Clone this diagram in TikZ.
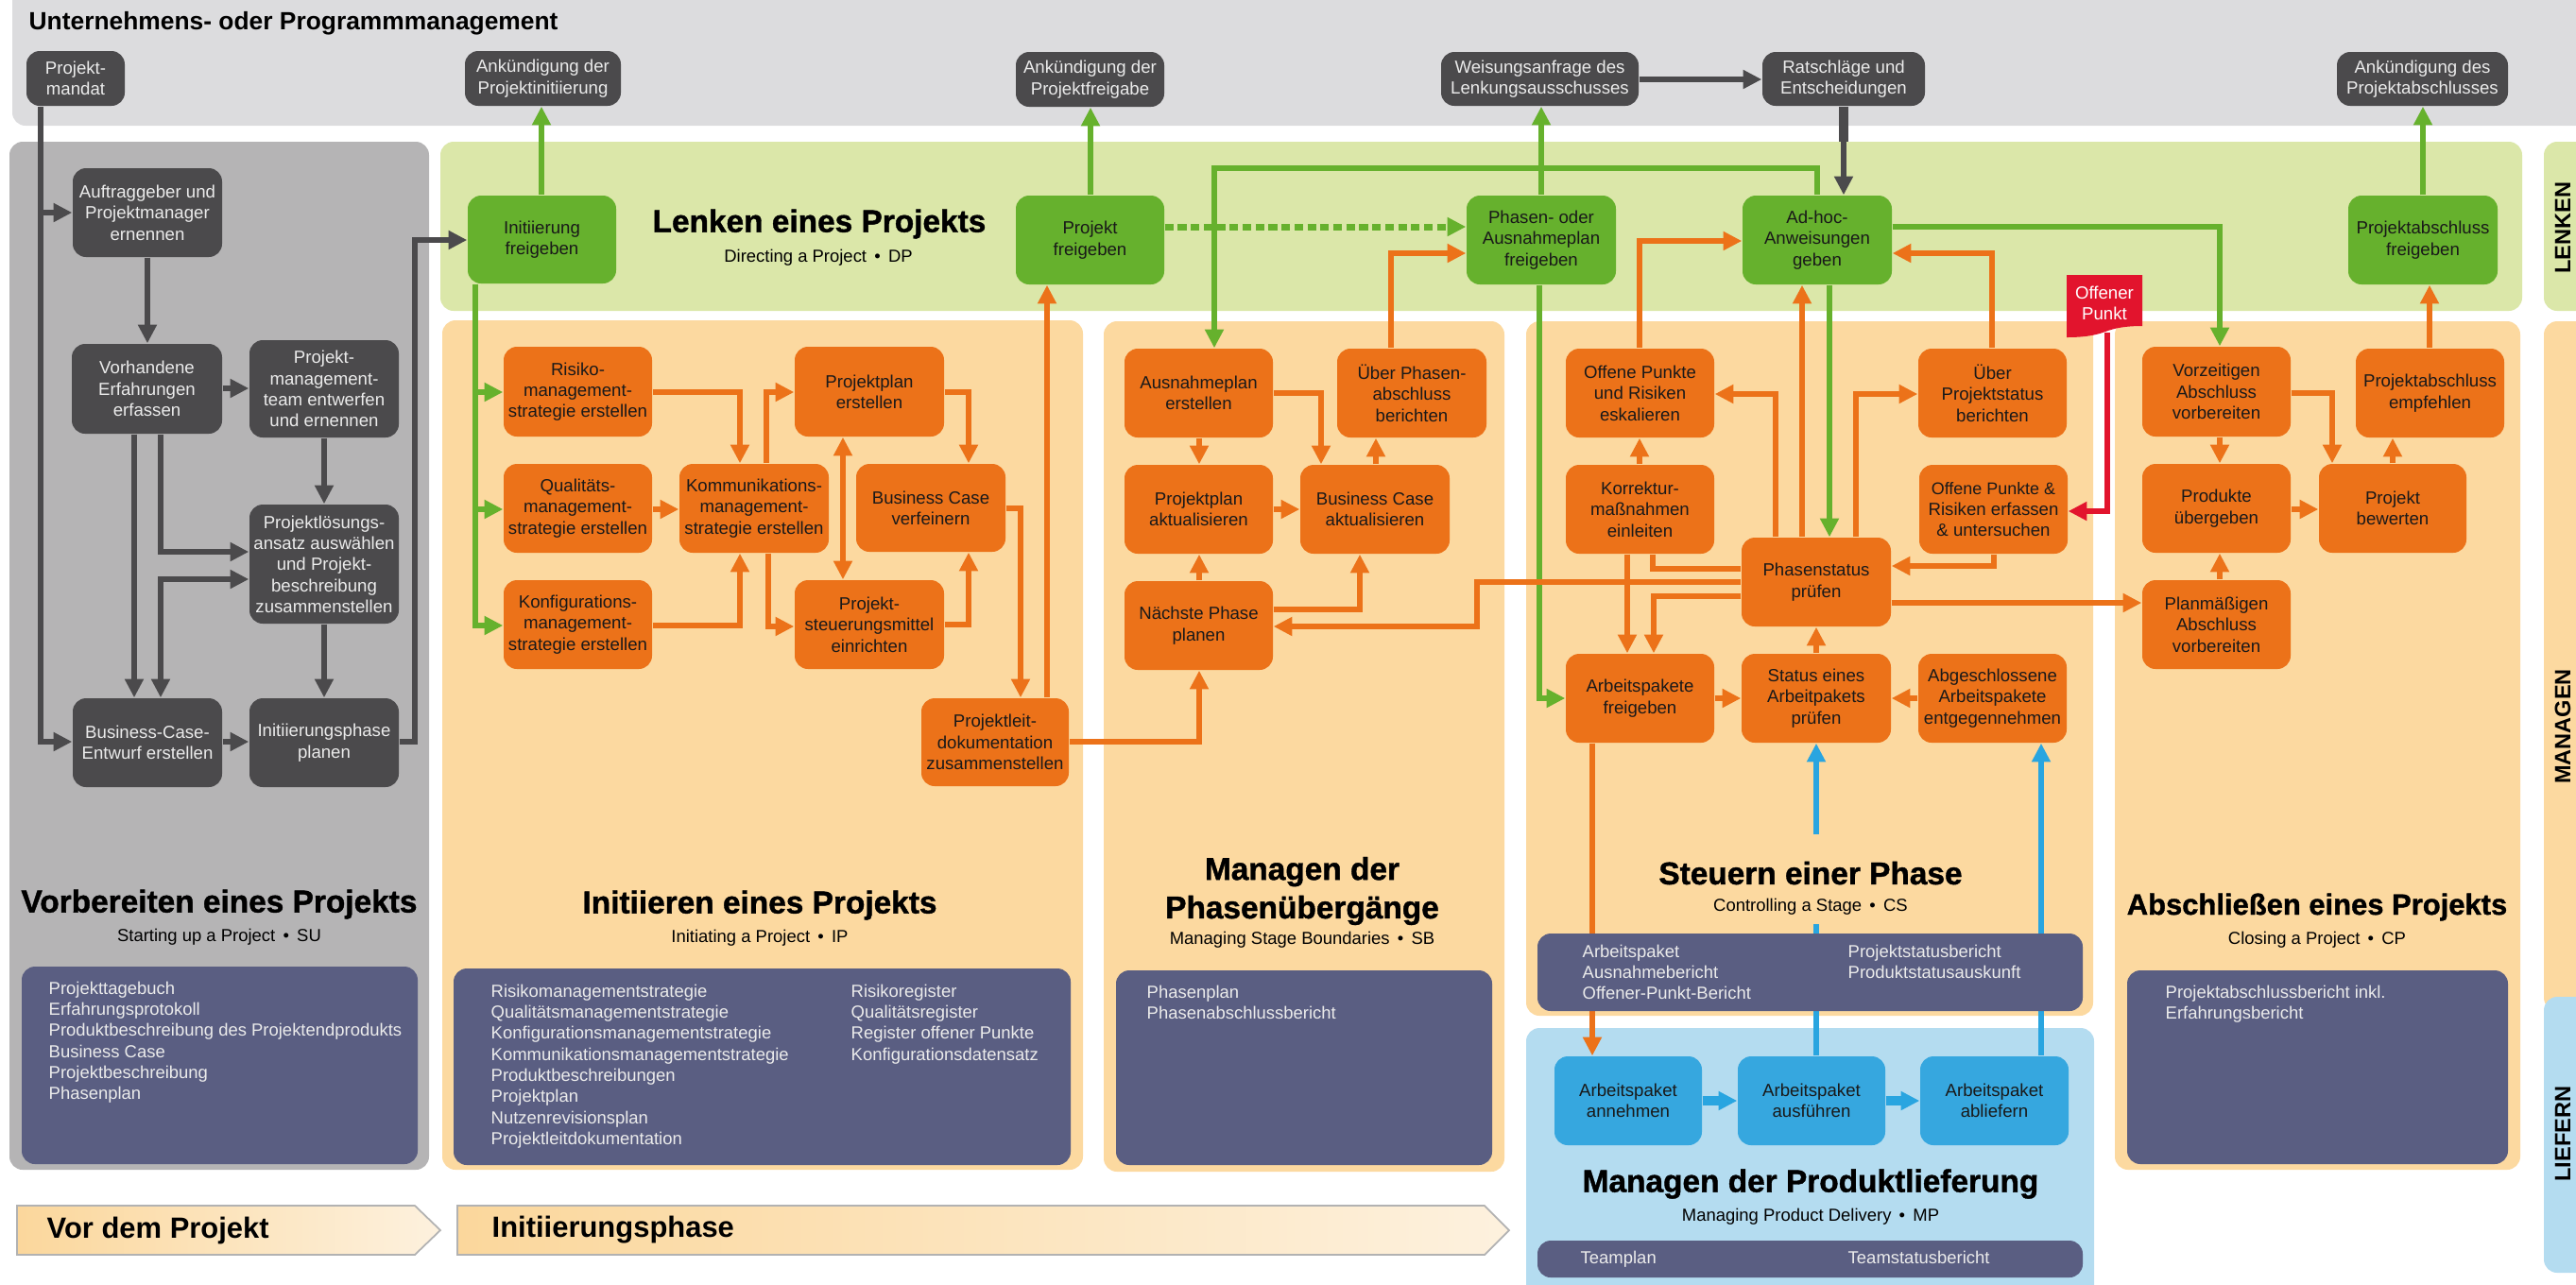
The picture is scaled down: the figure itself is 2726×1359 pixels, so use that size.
\documentclass[tikz,border=0pt]{standalone}
\usepackage{fontspec}
\setmainfont{Liberation Sans}
\newfontfamily\heavyfont{Liberation Sans}[BoldFeatures={FakeBold=1.2}]
\usetikzlibrary{arrows.meta}
\definecolor{topband}{HTML}{DCDCDE}
\definecolor{supanel}{HTML}{B5B4B5}
\definecolor{greenband}{HTML}{DBE7A9}
\definecolor{orpanel}{HTML}{FCD9A0}
\definecolor{blpanel}{HTML}{B4DCF0}
\definecolor{purplebox}{HTML}{5A5E82}
\definecolor{dk}{HTML}{4B4A4C}
\definecolor{orn}{HTML}{EC7219}
\definecolor{grn}{HTML}{66B12D}
\definecolor{bln}{HTML}{36A7DF}
\definecolor{bll}{HTML}{29A5E0}
\definecolor{rd}{HTML}{E2142D}
\definecolor{chevA}{HTML}{FBD79C}
\definecolor{chevB}{HTML}{FDF1DE}
\newcommand\nfont{\fontsize{5.3pt}{6.35pt}\selectfont}
\newcommand\lfont{\fontsize{5.25pt}{6.35pt}\selectfont}
\newcommand\tfont{\heavyfont\bfseries\fontsize{9.5pt}{10.2pt}\selectfont}
\newcommand\tfontsmall{\heavyfont\bfseries\fontsize{8.8pt}{10.2pt}\selectfont}
\newcommand\sfont{\fontsize{5.25pt}{6pt}\selectfont}
\newcommand\bx[7]{\node[#1,minimum width={(#5-#3)*0.01cm},minimum height={(#6-#4)*0.01cm}] (#2) at ({(#3+#5)/2},{(#4+#6)/2}) {#7};}
\tikzset{
  x=0.01cm,y=-0.01cm,
  >={Triangle[length=5.6pt,width=5.4pt]},
  base/.style={rounded corners=0.14cm,inner sep=0pt,align=center,font=\nfont},
  dnode/.style={base,fill=dk,text=white!92!black},
  onode/.style={base,fill=orn,text=black!90},
  gnode/.style={base,fill=grn,text=black!90},
  bnode/.style={base,fill=bln,text=black!90},
  panelfill/.style={rounded corners=0.14cm},
  cd/.style={line width=1.8pt,draw=dk},
  co/.style={line width=1.6pt,draw=orn},
  cg/.style={line width=1.5pt,draw=grn},
  cb/.style={line width=1.6pt,draw=bll},
  cr/.style={line width=1.8pt,draw=rd},
  titletext/.style={inner sep=0pt,font=\tfont,align=center,text=black},
  subtext/.style={inner sep=0pt,font=\sfont,text=black},
  listtext/.style={inner sep=0pt,font=\lfont,text=white!92!black,align=left,anchor=north west},
  barlabel/.style={inner sep=0pt,rotate=90,font=\bfseries\fontsize{6.7pt}{7pt}\selectfont,text=black},
  phasetext/.style={inner sep=0pt,anchor=west,font=\bfseries\fontsize{8.8pt}{10pt}\selectfont,text=black}
}
\begin{document}
\begin{tikzpicture}
\useasboundingbox (0,0) rectangle (2726,1359);
% panels
\fill[topband,panelfill] (13,-30) rectangle (2760,133);
\fill[greenband,panelfill] (466,150) rectangle (2669,329);
\fill[greenband,panelfill] (2692,150) rectangle (2760,329);
\fill[supanel,panelfill] (10,150) rectangle (454,1238);
\fill[orpanel,panelfill] (468,339) rectangle (1146,1238);
\fill[orpanel,panelfill] (1168,340) rectangle (1592,1240);
\fill[orpanel,panelfill] (1615,340) rectangle (2215,1075);
\fill[orpanel,panelfill] (2238,340) rectangle (2667,1238);
\fill[orpanel,panelfill] (2692,340) rectangle (2760,1070);
\fill[blpanel,panelfill] (2692,1055) rectangle (2760,1347);
\fill[blpanel,panelfill] (1615,1088) rectangle (2216,1400);
% band titles
\node[inner sep=0pt,anchor=west,font=\bfseries\fontsize{7.5pt}{8pt}\selectfont] (tmgmt) at (30,25) {Unternehmens- oder Programmmanagement};
\node[barlabel] (blenken) at (2712,241) {LENKEN};
\node[barlabel] (bmanagen) at (2712,769) {MANAGEN};
\node[barlabel] (bliefern) at (2712,1200) {LIEFERN};
% chevrons
\shade[left color=chevA,right color=chevB,draw=black!30,line width=0.5pt] (18,1276) -- (439,1276) -- (466,1302) -- (439,1328) -- (18,1328) -- cycle;
\shade[left color=chevA,right color=chevB,draw=black!30,line width=0.5pt] (484,1276) -- (1571,1276) -- (1597,1302) -- (1571,1328) -- (484,1328) -- cycle;
\node[phasetext] (tvor) at (49,1302) {Vor dem Projekt};
\node[phasetext] (tini) at (520,1302) {Initiierungsphase};
% flag
\fill[rd] (2187,291) -- (2267,291) -- (2267,345) .. controls (2250,345) and (2238,347) .. (2228,351) .. controls (2215,356) and (2200,357) .. (2187,357) -- cycle;
\node[inner sep=0pt,align=center,font=\nfont,text=white] (offen) at (2227,321) {Offener\\Punkt};
\coordinate (offenfoot) at (2230,352);
% titles
\node[titletext] (tdp) at (867,237) {Lenken eines Projekts};
\node[subtext] (sdp) at (866,273) {Directing a Project \,•\, DP};
\node[titletext] (tsu) at (232,957) {Vorbereiten eines Projekts};
\node[subtext] (ssu) at (232,992) {Starting up a Project \,•\, SU};
\node[titletext] (tip) at (804,958) {Initiieren eines Projekts};
\node[subtext] (sip) at (804,993) {Initiating a Project \,•\, IP};
\node[titletext] (tsb) at (1378,943) {Managen der\\[1.4pt]Phasenübergänge};
\node[subtext] (ssb) at (1378,995) {Managing Stage Boundaries \,•\, SB};
\node[titletext] (tcs) at (1916,924) {Steuern einer Phase};
\node[subtext] (scs) at (1916,960) {Controlling a Stage \,•\, CS};
\node[titletext,font=\tfontsmall] (tcp) at (2452,960) {Abschließen eines Projekts};
\node[subtext] (scp) at (2452,995) {Closing a Project \,•\, CP};
\node[titletext] (tmp) at (1916,1253) {Managen der Produktlieferung};
\node[subtext] (smp) at (1916,1288) {Managing Product Delivery \,•\, MP};
% top dark nodes
\bx{dnode}{mandat}{28}{54}{132}{112}{Projekt-\\mandat}
\bx{dnode}{ankinit}{492}{54}{657}{112}{Ankündigung der\\Projektinitiierung}
\bx{dnode}{ankfrei}{1075}{55}{1232}{113}{Ankündigung der\\Projektfreigabe}
\bx{dnode}{weisung}{1525}{55}{1734}{112}{Weisungsanfrage des\\Lenkungsausschusses}
\bx{dnode}{rat}{1865}{55}{2037}{112}{Ratschläge und\\Entscheidungen}
\bx{dnode}{ankabs}{2473}{55}{2654}{112}{Ankündigung des\\Projektabschlusses}
% SU
\bx{dnode}{ernennen}{77}{178}{235}{272}{Auftraggeber und\\Projektmanager\\ernennen}
\bx{dnode}{erfahr}{76}{364}{235}{459}{Vorhandene\\Erfahrungen\\erfassen}
\bx{dnode}{team}{264}{360}{422}{463}{Projekt-\\management-\\team entwerfen\\und ernennen}
\bx{dnode}{loesung}{264}{534}{422}{660}{Projektlösungs-\\ansatz auswählen\\und Projekt-\\beschreibung\\zusammenstellen}
\bx{dnode}{bcentw}{77}{739}{235}{833}{Business-Case-\\Entwurf erstellen}
\bx{dnode}{iniplan}{264}{739}{422}{833}{Initiierungsphase\\planen}
% DP
\bx{gnode}{inifrei}{495}{207}{652}{300}{Initiierung\\freigeben}
\bx{gnode}{projfrei}{1075}{207}{1232}{301}{Projekt\\freigeben}
\bx{gnode}{phfrei}{1552}{207}{1710}{301}{Phasen- oder\\Ausnahmeplan\\freigeben}
\bx{gnode}{adhoc}{1844}{207}{2002}{301}{Ad-hoc-\\Anweisungen\\geben}
\bx{gnode}{pafrei}{2485}{207}{2643}{301}{Projektabschluss\\freigeben}
% IP
\bx{onode}{risiko}{533}{367}{690}{462}{Risiko-\\management-\\strategie erstellen}
\bx{onode}{quali}{533}{491}{690}{585}{Qualitäts-\\management-\\strategie erstellen}
\bx{onode}{konfig}{533}{614}{690}{708}{Konfigurations-\\management-\\strategie erstellen}
\bx{onode}{komm}{719}{491}{877}{585}{Kommunikations-\\management-\\strategie erstellen}
\bx{onode}{ppers}{841}{367}{999}{462}{Projektplan\\erstellen}
\bx{onode}{steuer}{841}{614}{999}{708}{Projekt-\\steuerungsmittel\\einrichten}
\bx{onode}{bcverf}{906}{491}{1064}{584}{Business Case\\verfeinern}
\bx{onode}{pld}{975}{739}{1131}{832}{Projektleit-\\dokumentation\\zusammenstellen}
% SB
\bx{onode}{ausnplan}{1190}{369}{1347}{463}{Ausnahmeplan\\erstellen}
\bx{onode}{ppakt}{1190}{492}{1347}{586}{Projektplan\\aktualisieren}
\bx{onode}{naechste}{1190}{615}{1347}{709}{Nächste Phase\\planen}
\bx{onode}{bcakt}{1376}{492}{1534}{586}{Business Case\\aktualisieren}
\bx{onode}{ueberph}{1415}{369}{1573}{463}{Über Phasen-\\abschluss\\berichten}
% CS
\bx{onode}{eskal}{1657}{369}{1814}{463}{Offene Punkte\\und Risiken\\eskalieren}
\bx{onode}{korr}{1657}{492}{1814}{586}{Korrektur-\\maßnahmen\\einleiten}
\bx{onode}{apfrei}{1657}{692}{1814}{786}{Arbeitspakete\\freigeben}
\bx{onode}{phstat}{1843}{569}{2001}{663}{Phasenstatus\\prüfen}
\bx{onode}{apstat}{1843}{692}{2001}{786}{Status eines\\Arbeitpakets\\prüfen}
\bx{onode}{ueberstat}{2030}{369}{2187}{463}{Über\\Projektstatus\\berichten}
\bx{onode}{offerf}{2031}{492}{2188}{586}{\fontsize{5.1pt}{6.35pt}\selectfont Offene Punkte \&\\Risiken erfassen\\\& untersuchen}
\bx{onode}{abgesch}{2030}{692}{2187}{786}{Abgeschlossene\\Arbeitspakete\\entgegennehmen}
% CP
\bx{onode}{vorz}{2267}{367}{2424}{462}{Vorzeitigen\\Abschluss\\vorbereiten}
\bx{onode}{prodgb}{2267}{491}{2424}{585}{Produkte\\übergeben}
\bx{onode}{planm}{2267}{614}{2424}{708}{Planmäßigen\\Abschluss\\vorbereiten}
\bx{onode}{bewert}{2454}{491}{2610}{585}{Projekt\\bewerten}
\bx{onode}{paempf}{2493}{369}{2650}{463}{Projektabschluss\\empfehlen}
% MP
\bx{bnode}{annehm}{1645}{1118}{1801}{1212}{Arbeitspaket\\annehmen}
\bx{bnode}{ausfuehr}{1839}{1118}{1995}{1212}{Arbeitspaket\\ausführen}
\bx{bnode}{abliefer}{2032}{1118}{2189}{1212}{Arbeitspaket\\abliefern}
% --- connectors: dark
\draw[cd,->] (43,0 |- mandat.south) |- (bcentw.west |- 0,785);
\draw[cd,->] (43,225) -- (ernennen.west |- 0,225);
\draw[cd,->] (ernennen.south -| 156,0) -- (erfahr.north -| 156,0);
\draw[cd,->] (erfahr.east |- 0,411) -- (team.west |- 0,411);
\draw[cd,->] (team.south -| 343,0) -- (loesung.north -| 343,0);
\draw[cd,->] (erfahr.south -| 170,0) |- (loesung.west |- 0,584);
\draw[cd,->] (erfahr.south -| 142,0) -- (bcentw.north -| 142,0);
\draw[cd,<->] (bcentw.north -| 170,0) |- (loesung.west |- 0,613);
\draw[cd,->] (loesung.south -| 343,0) -- (iniplan.north -| 343,0);
\draw[cd,->] (bcentw.east |- 0,785) -- (iniplan.west |- 0,785);
\draw[cd,->] (iniplan.east |- 0,785) -| (439,520) |- (inifrei.west |- 0,254);
\draw[cd,->] (weisung.east |- 0,84) -- (rat.west |- 0,84);
\draw[cd,line width=2.9pt] (rat.south -| 1951,0) -- (1951,150);
\draw[cd,->] (1951,150) -- (adhoc.north -| 1951,0);
% green
\draw[cg,->] (inifrei.north -| 573,0) -- (ankinit.south -| 573,0);
\draw[cg,->] (inifrei.south -| 503,0) |- (konfig.west |- 0,662);
\draw[cg,->] (503,415) -- (risiko.west |- 0,415);
\draw[cg,->] (503,539) -- (quali.west |- 0,539);
\draw[cg,->] (projfrei.north -| 1154,0) -- (ankfrei.south -| 1154,0);
\draw[cg,->,line width=2pt,dash pattern=on 2.6pt off 1.3pt] (projfrei.east |- 0,240) -- (phfrei.west |- 0,240);
\draw[cg,->] (phfrei.north -| 1631,0) -- (weisung.south -| 1631,0);
\draw[cg,->] (adhoc.north -| 1923,0) |- (1285,178) -- (ausnplan.north -| 1285,0);
\draw[cg,->] (phfrei.south -| 1629,0) |- (apfrei.west |- 0,739);
\draw[cg,->] (adhoc.east |- 0,240) -| (vorz.north -| 2349,0);
\draw[cg,->] (pafrei.north -| 2564,0) -- (ankabs.south -| 2564,0);
% orange IP
\draw[co,->] (risiko.east |- 0,415) -| (komm.north -| 783,0);
\draw[co,->] (komm.north -| 811,0) |- (ppers.west |- 0,415);
\draw[co,->] (quali.east |- 0,539) -- (komm.west |- 0,539);
\draw[co,->] (konfig.east |- 0,662) -| (komm.south -| 783,0);
\draw[co,->] (komm.south -| 813,0) |- (steuer.west |- 0,663);
\draw[co,<->] (ppers.south -| 892,0) -- (steuer.north -| 892,0);
\draw[co,->] (ppers.east |- 0,415) -| (bcverf.north -| 1025,0);
\draw[co,->] (steuer.east |- 0,661) -| (bcverf.south -| 1025,0);
\draw[co,->] (bcverf.east |- 0,538) -| (pld.north -| 1080,0);
\draw[co,->] (pld.north -| 1108,0) -- (projfrei.south -| 1108,0);
\draw[co,->] (pld.east |- 0,785) -| (naechste.south -| 1269,0);
% orange SB
\draw[co,->] (ausnplan.south -| 1269,0) -- (ppakt.north -| 1269,0);
\draw[co,->] (ausnplan.east |- 0,416) -| (bcakt.north -| 1398,0);
\draw[co,->] (ppakt.east |- 0,539) -- (bcakt.west |- 0,539);
\draw[co,->] (naechste.north -| 1269,0) -- (ppakt.south -| 1269,0);
\draw[co,->] (naechste.east |- 0,645) -| (bcakt.south -| 1439,0);
\draw[co,->] (bcakt.north -| 1456,0) -- (ueberph.south -| 1456,0);
\draw[co,->] (ueberph.north -| 1472,0) |- (phfrei.west |- 0,268);
% orange CS
\draw[co,->] (eskal.north -| 1735,0) |- (adhoc.west |- 0,255);
\draw[co,->] (korr.north -| 1735,0) -- (eskal.south -| 1735,0);
\draw[co,->] (phstat.north -| 1879,0) |- (eskal.east |- 0,417);
\draw[co,->] (phstat.north -| 1907,0) -- (adhoc.south -| 1907,0);
\draw[co,->] (phstat.north -| 1964,0) |- (ueberstat.west |- 0,417);
\draw[co,->] (ueberstat.north -| 2108,0) |- (adhoc.east |- 0,268);
\draw[co,->] (offerf.south -| 2110,0) |- (phstat.east |- 0,599);
\draw[co,->] (phstat.east |- 0,638) -- (planm.west |- 0,638);
\draw[co,->] (phstat.west |- 0,616) -- (1563,616) |- (naechste.east |- 0,663);
\draw[co] (korr.south -| 1749,0) |- (phstat.west |- 0,602);
\draw[co,->] (korr.south -| 1722,0) -- (apfrei.north -| 1722,0);
\draw[co,->] (phstat.west |- 0,631) -| (apfrei.north -| 1750,0);
\draw[co,->] (apfrei.east |- 0,739) -- (apstat.west |- 0,739);
\draw[co,->] (apstat.north -| 1922,0) -- (phstat.south -| 1922,0);
\draw[co,->] (abgesch.west |- 0,739) -- (apstat.east |- 0,739);
\draw[co,->] (apfrei.south -| 1685,0) -- (annehm.north -| 1685,0);
\draw[cg,->] (adhoc.south -| 1936,0) -- (phstat.north -| 1936,0);
% orange CP
\draw[co,->] (vorz.south -| 2349,0) -- (prodgb.north -| 2349,0);
\draw[co,->] (vorz.east |- 0,416) -| (bewert.north -| 2468,0);
\draw[co,->] (prodgb.east |- 0,539) -- (bewert.west |- 0,539);
\draw[co,->] (planm.north -| 2349,0) -- (prodgb.south -| 2349,0);
\draw[co,->] (bewert.north -| 2532,0) -- (paempf.south -| 2532,0);
\draw[co,->] (paempf.north -| 2571,0) -- (pafrei.south -| 2571,0);
% red
\draw[cr,->] (offenfoot) |- (offerf.east |- 0,541);
% blue
\coordinate (bgapA) at (1922,978);
\coordinate (bgapB) at (1922,883);
\draw[cb] (ausfuehr.north -| 1922,0) -- (bgapA);
\draw[cb,->] (bgapB) -- (apstat.south -| 1922,0);
\draw[cb,->] (abliefer.north -| 2160,0) -- (abgesch.south -| 2160,0);
\draw[cb,->,line width=2.6pt] (annehm.east |- 0,1165) -- (ausfuehr.west |- 0,1165);
\draw[cb,->,line width=2.6pt] (ausfuehr.east |- 0,1165) -- (abliefer.west |- 0,1165);
% purple boxes
\fill[purplebox,panelfill] (23,1023) rectangle (442,1232);
\fill[purplebox,panelfill] (480,1025) rectangle (1133,1233);
\fill[purplebox,panelfill] (1181,1027) rectangle (1579,1233);
\fill[purplebox,panelfill] (1627,988) rectangle (2204,1070);
\fill[purplebox,panelfill] (2251,1027) rectangle (2654,1232);
\fill[purplebox,panelfill] (1627,1313) rectangle (2204,1352);
\node[listtext] (lsu) at (51,1038) {Projekttagebuch\\Erfahrungsprotokoll\\Produktbeschreibung des Projektendprodukts\\Business Case\\Projektbeschreibung\\Phasenplan};
\node[listtext] (lipa) at (519,1041) {Risikomanagementstrategie\\Qualitätsmanagementstrategie\\Konfigurationsmanagementstrategie\\Kommunikationsmanagementstrategie\\Produktbeschreibungen\\Projektplan\\Nutzenrevisionsplan\\Projektleitdokumentation};
\node[listtext] (lipb) at (900,1041) {Risikoregister\\Qualitätsregister\\Register offener Punkte\\Konfigurationsdatensatz};
\node[listtext] (lsb) at (1213,1042) {Phasenplan\\Phasenabschlussbericht};
\node[listtext] (lcsa) at (1674,999) {Arbeitspaket\\Ausnahmebericht\\Offener-Punkt-Bericht};
\node[listtext] (lcsb) at (1955,999) {Projektstatusbericht\\Produktstatusauskunft};
\node[listtext] (lcp) at (2291,1042) {Projektabschlussbericht inkl.\\Erfahrungsbericht};
\node[listtext] (lmpa) at (1672,1323) {Teamplan};
\node[listtext] (lmpb) at (1955,1323) {Teamstatusbericht};
\end{tikzpicture}
\end{document}
